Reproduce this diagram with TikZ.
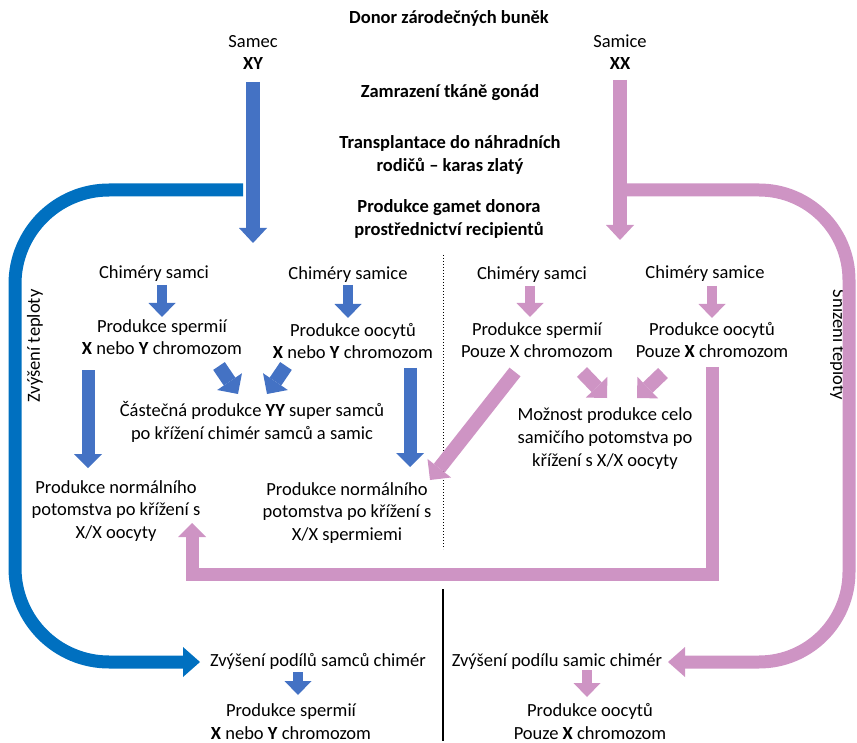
\documentclass[tikz,border=0pt]{standalone}
\usepackage{fontspec}
\setmainfont{Carlito}
\usetikzlibrary{arrows.meta}
\definecolor{blueA}{RGB}{68,114,196}
\definecolor{blueB}{RGB}{0,112,192}
\definecolor{pinkA}{RGB}{206,148,196}
\tikzset{
  txt/.style={anchor=base, inner sep=0pt, align=center},
  bigarr/.style={line width=14pt, -{Triangle[width=28pt,length=15pt,line width=0pt]}},
  smallarr/.style={line width=10pt, -{Triangle[width=27pt,length=14pt,line width=0pt]}},
  diagarr/.style={line width=14pt, -{Triangle[width=30pt,length=15pt,line width=0pt]}},
  longarr/.style={line width=13pt, -{Triangle[width=28pt,length=14pt,line width=0pt]}},
  curvearr/.style={line width=13pt, -{Triangle[width=30pt,length=17pt,line width=0pt]}},
}
\begin{document}
\begin{tikzpicture}[x=1pt,y=-1pt,font=\fontsize{18.5}{23}\selectfont]
\useasboundingbox (0,0) rectangle (857,743);
% top texts (base anchor = baseline of last line)
\node[txt,font=\bfseries\fontsize{18.5}{23}\selectfont] (donor) at (449,24) {Donor zárodečných buněk};
\node[txt] (samec) at (253,48) {Samec};
\node[txt,font=\bfseries\fontsize{18.5}{23}\selectfont] (xy) at (253,70) {XY};
\node[txt] (samice) at (620,48) {Samice};
\node[txt,font=\bfseries\fontsize{18.5}{23}\selectfont] (xx) at (620,70) {XX};
\node[txt,font=\bfseries\fontsize{18.5}{23}\selectfont] (zam) at (450,98) {Zamrazení tkáně gonád};
\node[txt,font=\bfseries\fontsize{18.5}{23}\selectfont] (trans) at (450,172) {Transplantace do náhradních\\rodičů – karas zlatý};
\node[txt,font=\bfseries\fontsize{18.5}{23}\selectfont] (gam) at (449,236) {Produkce gamet donora\\prostřednictví recipientů};
% left side texts
\node[txt] (chsL) at (154,279) {Chiméry samci};
\node[txt] (chfL) at (348,280) {Chiméry samice};
\node[txt,font=\fontsize{18.5}{22}\selectfont] (spL) at (162,355) {Produkce spermií\\\textbf{X} nebo \textbf{Y} chromozom};
\node[txt,font=\fontsize{18.5}{22}\selectfont] (ocL) at (353,359) {Produkce oocytů\\\textbf{X} nebo \textbf{Y} chromozom};
\node[txt] (yy) at (252,439) {Částečná produkce \textbf{YY} super samců\\po křížení chimér samců a samic};
\node[txt,font=\fontsize{18.5}{22.5}\selectfont] (norL) at (116,538) {Produkce normálního\\potomstva po křížení s\\X/X oocyty};
\node[txt,font=\fontsize{18.5}{22.5}\selectfont] (norR) at (347,540) {Produkce normálního\\potomstva po křížení s\\X/X spermiemi};
% right side texts
\node[txt] (chsR) at (532,280) {Chiméry samci};
\node[txt] (chfR) at (705,279) {Chiméry samice};
\node[txt,font=\fontsize{18.5}{22}\selectfont] (spR) at (537,358) {Produkce spermií\\Pouze X chromozom};
\node[txt,font=\fontsize{18.5}{22}\selectfont] (ocR) at (712,358) {Produkce oocytů\\Pouze \textbf{X} chromozom};
\node[txt] (moz) at (605,466) {Možnost produkce celo\\samičího potomstva po\\křížení s X/X oocyty};
% rotated
\node[inner sep=0pt,rotate=90] (zvt) at (35,346) {Zvýšení teploty};
\node[inner sep=0pt,rotate=-90] (snt) at (838,345) {Snížení teploty};
% bottom texts
\node[txt] (zvM) at (318,666) {Zvýšení podílů samců chimér};
\node[txt] (zvF) at (557,666) {Zvýšení podílu samic chimér};
\node[txt,font=\fontsize{18.5}{23}\selectfont] (spB) at (291,739) {Produkce spermií\\\textbf{X} nebo \textbf{Y} chromozom};
\node[txt,font=\fontsize{18.5}{23}\selectfont] (ocB) at (590,739) {Produkce oocytů\\Pouze \textbf{X} chromozom};
% separator lines
\coordinate (d1) at (443,255); \coordinate (d2) at (443,549);
\draw[dotted,line width=1pt] (d1) -- (d2);
\coordinate (s1) at (443,589); \coordinate (s2) at (443,741);
\draw[line width=2pt] (s1) -- (s2);
% main arrows
\coordinate (mb1) at (253,82); \coordinate (mb2) at (253,243);
\draw[blueA,bigarr] (mb1) -- (mb2);
\coordinate (mp1) at (620,80); \coordinate (mp2) at (620,240);
\draw[pinkA,bigarr] (mp1) -- (mp2);
% big curved arrows
\coordinate (cb0) at (243,190); \coordinate (cb1) at (15,190); \coordinate (cb2) at (15,662); \coordinate (cb3) at (200,662);
\draw[blueB,curvearr,rounded corners=94pt] (cb0) -- (cb1) -- (cb2) -- (cb3);
\coordinate (cp0) at (627,190); \coordinate (cp1) at (849,190); \coordinate (cp2) at (849,662); \coordinate (cp3) at (668,662);
\draw[pinkA,curvearr,rounded corners=90pt] (cp0) -- (cp1) -- (cp2) -- (cp3);
% pink U arrow
\coordinate (u0) at (712,367); \coordinate (u1) at (712,574); \coordinate (u2) at (192,574); \coordinate (u3) at (192,523);
\draw[pinkA,longarr,line join=miter] (u0) -- (u1) -- (u2) -- (u3);
% small arrows left
\coordinate (a1) at (162,285); \coordinate (a2) at (162,317);
\draw[blueA,smallarr] (a1) -- (a2);
\coordinate (a3) at (348,285); \coordinate (a4) at (348,318);
\draw[blueA,smallarr] (a3) -- (a4);
\coordinate (a5) at (219,366); \coordinate (a6) at (238,394);
\draw[blueA,diagarr] (a5) -- (a6);
\coordinate (a7) at (286,366); \coordinate (a8) at (267,394);
\draw[blueA,diagarr] (a7) -- (a8);
\coordinate (a9) at (88,370); \coordinate (a10) at (88,468);
\draw[blueA,longarr] (a9) -- (a10);
\coordinate (a11) at (410,368); \coordinate (a12) at (410,467);
\draw[blueA,longarr] (a11) -- (a12);
% small arrows right
\coordinate (b1) at (530,286); \coordinate (b2) at (530,317);
\draw[pinkA,smallarr] (b1) -- (b2);
\coordinate (b3) at (712,286); \coordinate (b4) at (712,318);
\draw[pinkA,smallarr] (b3) -- (b4);
\coordinate (b5) at (582,372); \coordinate (b6) at (607,398);
\draw[pinkA,diagarr] (b5) -- (b6);
\coordinate (b7) at (663,373); \coordinate (b8) at (637,398);
\draw[pinkA,diagarr] (b7) -- (b8);
\coordinate (b9) at (515,372); \coordinate (b10) at (430,480);
\draw[pinkA,diagarr] (b9) -- (b10);
% bottom arrows
\coordinate (c1) at (298,672); \coordinate (c2) at (298,695);
\draw[blueA,smallarr] (c1) -- (c2);
\coordinate (c3) at (587,670); \coordinate (c4) at (587,697);
\draw[pinkA,smallarr] (c3) -- (c4);
\end{tikzpicture}
\end{document}
